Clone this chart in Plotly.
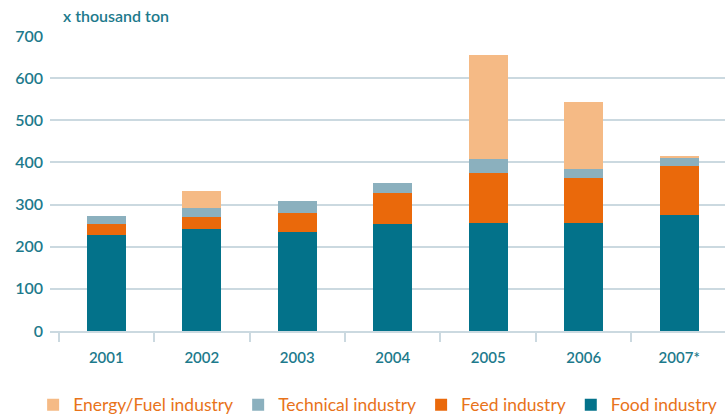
import plotly.graph_objects as go

years = ["2001", "2002", "2003", "2004", "2005", "2006", "2007*"]
food = [228, 242, 235, 254, 257, 257, 275]
feed = [26, 28, 45, 74, 119, 105, 116]
technical = [19, 22, 29, 23, 31, 23, 21]
energy = [0, 41, 0, 0, 247, 159, 4]

teal = "#1d7a8c"
grid = "#cbd9e0"

fig = go.Figure()
series = [
    ("Food industry", food, "#03728a"),
    ("Feed industry", feed, "#ea690b"),
    ("Technical industry", technical, "#8bb0be"),
    ("Energy/Fuel industry", energy, "#f5ba85"),
]
for name, vals, col in series:
    fig.add_trace(go.Bar(x=years, y=vals, name=name, marker_color=col,
                         marker_line_width=0))

fig.update_layout(
    barmode="stack",
    bargap=0.59,
    width=725, height=414,
    margin=dict(l=50, r=0, t=36, b=83, autoexpand=False),
    paper_bgcolor="white", plot_bgcolor="white",
    font=dict(family="Lato", color=teal, size=15),
    legend=dict(orientation="h", traceorder="reversed", x=-0.025, xanchor="left",
                y=-0.25, yanchor="middle",
                font=dict(color="#e8731a", size=17.5, family="Lato"),
                itemwidth=30, tracegroupgap=0),
    annotations=[dict(text="x thousand ton", xref="paper", yref="paper",
                      x=0.017, y=1, xanchor="left", yanchor="bottom", yshift=9,
                      showarrow=False, font=dict(size=16, color=teal, weight=600))],
)
fig.update_xaxes(range=[-0.59, 6.48], tickson="boundaries", ticks="outside",
                 ticklen=9, tickcolor=grid, tickwidth=2, showline=True,
                 linecolor=grid, linewidth=2, showgrid=False, automargin=False,
                 ticklabelstandoff=12,
                 tickfont=dict(size=15, color=teal, weight=600))
fig.update_yaxes(range=[0, 700], dtick=100, gridcolor=grid, gridwidth=2,
                 zeroline=False, ticks="", ticklabelstandoff=6, automargin=False,
                 tickfont=dict(size=16, color=teal, weight=600))

# the page body has a default 8px margin; drop it so the figure fills the window
fig.write_html("out.html", config={"displayModeBar": False},
               post_script="document.body.style.margin='0';")
